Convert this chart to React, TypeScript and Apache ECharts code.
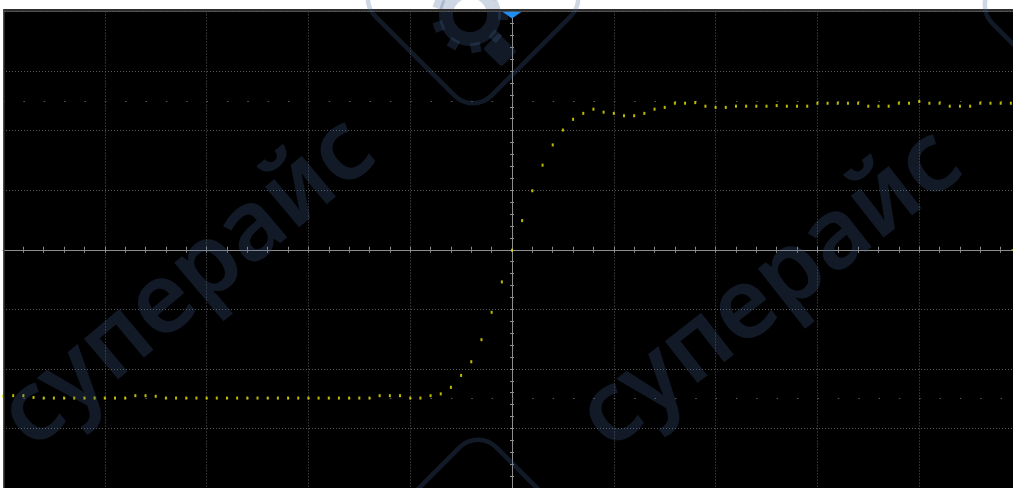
import React, { useEffect, useRef } from "react";
import * as echarts from "echarts";

// Sampled waveform (vertical divisions), one sample per 1/10 horizontal division, left to right
const sampleValues = [
  -2.46, -2.45, -2.45, -2.48, -2.49, -2.49, -2.49, -2.49, -2.49, -2.49,
  -2.49, -2.49, -2.49, -2.45, -2.45, -2.46, -2.49, -2.49, -2.49, -2.49,
  -2.49, -2.49, -2.49, -2.49, -2.49, -2.49, -2.49, -2.49, -2.49, -2.49,
  -2.49, -2.49, -2.49, -2.49, -2.49, -2.49, -2.49, -2.45, -2.45, -2.45,
  -2.49, -2.49, -2.45, -2.42, -2.31, -2.11, -1.88, -1.51, -1.05, -0.54,
  -0.01, 0.49, 0.99, 1.42, 1.76, 2.01, 2.19, 2.29, 2.36, 2.31,
  2.29, 2.25, 2.25, 2.29, 2.36, 2.39, 2.46, 2.46, 2.47, 2.41,
  2.39, 2.39, 2.41, 2.41, 2.41, 2.41, 2.42, 2.41, 2.41, 2.41,
  2.46, 2.46, 2.46, 2.46, 2.46, 2.41, 2.41, 2.41, 2.46, 2.46,
  2.49, 2.46, 2.46, 2.41, 2.41, 2.41, 2.46, 2.46, 2.46, 2.46,
];
const firstSampleTime = -50; // in 1/10 division units
const timeRange = [-50, 50];
const timeInterval = 10;
const levelRange = [-4, 4];
const levelInterval = 1;
const referenceLevels = [2.5, -2.5];
const triggerTime = 0;
const triggerLevel = 0;
const watermarkText = "суперайс";

const AXIS_COLOR = "#8e8e8e";
const GRID_COLOR = "#5a5a5a";
const TRACE_COLOR = "#ecec00";
const WM = "rgba(70,100,150,0.26)";

function gear(cx: number, cy: number) {
  const children: any[] = [
    { type: "ring", shape: { cx: 0, cy: 0, r: 31, r0: 17 }, style: { fill: WM } },
  ];
  for (let k = 0; k < 9; k++) {
    const a = (k / 9) * Math.PI * 2;
    children.push({
      type: "rect",
      x: Math.cos(a) * 33,
      y: Math.sin(a) * 33,
      rotation: -a,
      shape: { x: -5, y: -5, width: 10, height: 10 },
      style: { fill: WM },
    });
  }
  return { type: "group", x: cx, y: cy, z: 100, silent: true, children };
}

function diamond(cx: number, cy: number) {
  return {
    type: "rect",
    x: cx,
    y: cy,
    rotation: Math.PI / 4,
    z: 100,
    silent: true,
    shape: { x: -82, y: -82, width: 164, height: 164, r: 26 },
    style: { fill: "none", stroke: WM, lineWidth: 4.5 },
  };
}

function word(cx: number, cy: number, deg: number) {
  return {
    type: "text",
    x: cx,
    y: cy,
    rotation: (deg * Math.PI) / 180,
    z: 100,
    silent: true,
    style: {
      text: watermarkText,
      fontSize: 98,
      fontFamily: "Noto Sans",
      fontWeight: 600,
      fill: WM,
      align: "center",
      verticalAlign: "middle",
      textAlign: "center",
      textVerticalAlign: "middle",
    },
  };
}

export default function App() {
  const ref = useRef<HTMLDivElement>(null);
  useEffect(() => {
    document.body.style.margin = "0";
    const chart = echarts.init(ref.current!, null, { renderer: "svg" });
    const points = sampleValues.map((v, i) => [firstSampleTime + i, v]);
    const axisLineStyle = { color: AXIS_COLOR, width: 1 };
    const mkX = (inside: boolean, split: boolean) => ({
      type: "value",
      min: timeRange[0],
      max: timeRange[1],
      interval: timeInterval,
      position: "bottom",
      axisLine: { show: true, onZero: true, onZeroAxisIndex: 0, lineStyle: axisLineStyle },
      axisTick: { show: true, inside, length: 3, lineStyle: axisLineStyle },
      minorTick: { show: true, splitNumber: 5, length: 3, lineStyle: axisLineStyle },
      axisLabel: { show: false },
      splitLine: { show: split, lineStyle: { color: GRID_COLOR, type: [1, 2], width: 1 } },
      minorSplitLine: { show: false },
    });
    const mkY = (inside: boolean, split: boolean) => ({
      type: "value",
      min: levelRange[0],
      max: levelRange[1],
      interval: levelInterval,
      position: "left",
      axisLine: { show: true, onZero: true, onZeroAxisIndex: 0, lineStyle: axisLineStyle },
      axisTick: { show: true, inside, length: 2, lineStyle: axisLineStyle },
      minorTick: { show: true, splitNumber: 5, length: 2, lineStyle: axisLineStyle },
      axisLabel: { show: false },
      splitLine: { show: split, lineStyle: { color: GRID_COLOR, type: [1, 2], width: 1 } },
      minorSplitLine: { show: false },
    });
    chart.setOption({
      animation: false,
      backgroundColor: "#ffffff",
      grid: {
        left: 3,
        top: 11.5,
        right: 0,
        height: 480,
        show: true,
        backgroundColor: "#000000",
        borderWidth: 0,
      },
      xAxis: [mkX(false, true), mkX(true, false)],
      yAxis: [mkY(false, true), mkY(true, false)],
      series: [
        {
          type: "scatter",
          xAxisIndex: 0,
          yAxisIndex: 0,
          data: points,
          symbol: "rect",
          symbolSize: [2, 3],
          itemStyle: { color: TRACE_COLOR },
          silent: true,
          z: 5,
          markLine: {
            silent: true,
            symbol: "none",
            label: { show: false },
            lineStyle: { color: "#5c5c5c", type: [1.5, 18.86], width: 1 },
            data: referenceLevels.map((v) => ({ yAxis: v })),
          },
          markPoint: {
            silent: true,
            label: { show: false },
            data: [
              {
                coord: [triggerTime, levelRange[1]],
                symbol: "triangle",
                symbolRotate: 180,
                symbolSize: [20, 7],
                symbolOffset: [0, 3.5],
                itemStyle: { color: "#1f8ef1" },
              },
              {
                coord: [timeRange[1], triggerLevel],
                symbol: "triangle",
                symbolRotate: 90,
                symbolSize: [8, 20],
                itemStyle: { color: TRACE_COLOR },
              },
            ],
          },
        },
      ],
      graphic: [
        { type: "rect", z: 90, silent: true, shape: { x: 3, y: 9, width: 1018, height: 2.5 }, style: { fill: "#2e2e2e" } },
        { type: "rect", z: 90, silent: true, shape: { x: 3, y: 9, width: 1.5, height: 479 }, style: { fill: "#4a4a4a" } },
        diamond(473, -2),
        diamond(478, 545),
        diamond(1090, 5),
        gear(470, 15),
        {
          type: "rect",
          x: 500,
          y: 50,
          rotation: Math.PI / 4,
          z: 100,
          silent: true,
          shape: { x: -11, y: -13, width: 22, height: 26, r: 3 },
          style: { fill: WM },
        },
        word(182, 276, 40),
        word(765, 282, 38),
      ],
    });
    return () => chart.dispose();
  }, []);
  return (
    <div style={{ width: 1013, height: 488, overflow: "hidden", position: "relative" }}>
      <div ref={ref} style={{ width: 1021, height: 488 }} />
    </div>
  );
}
